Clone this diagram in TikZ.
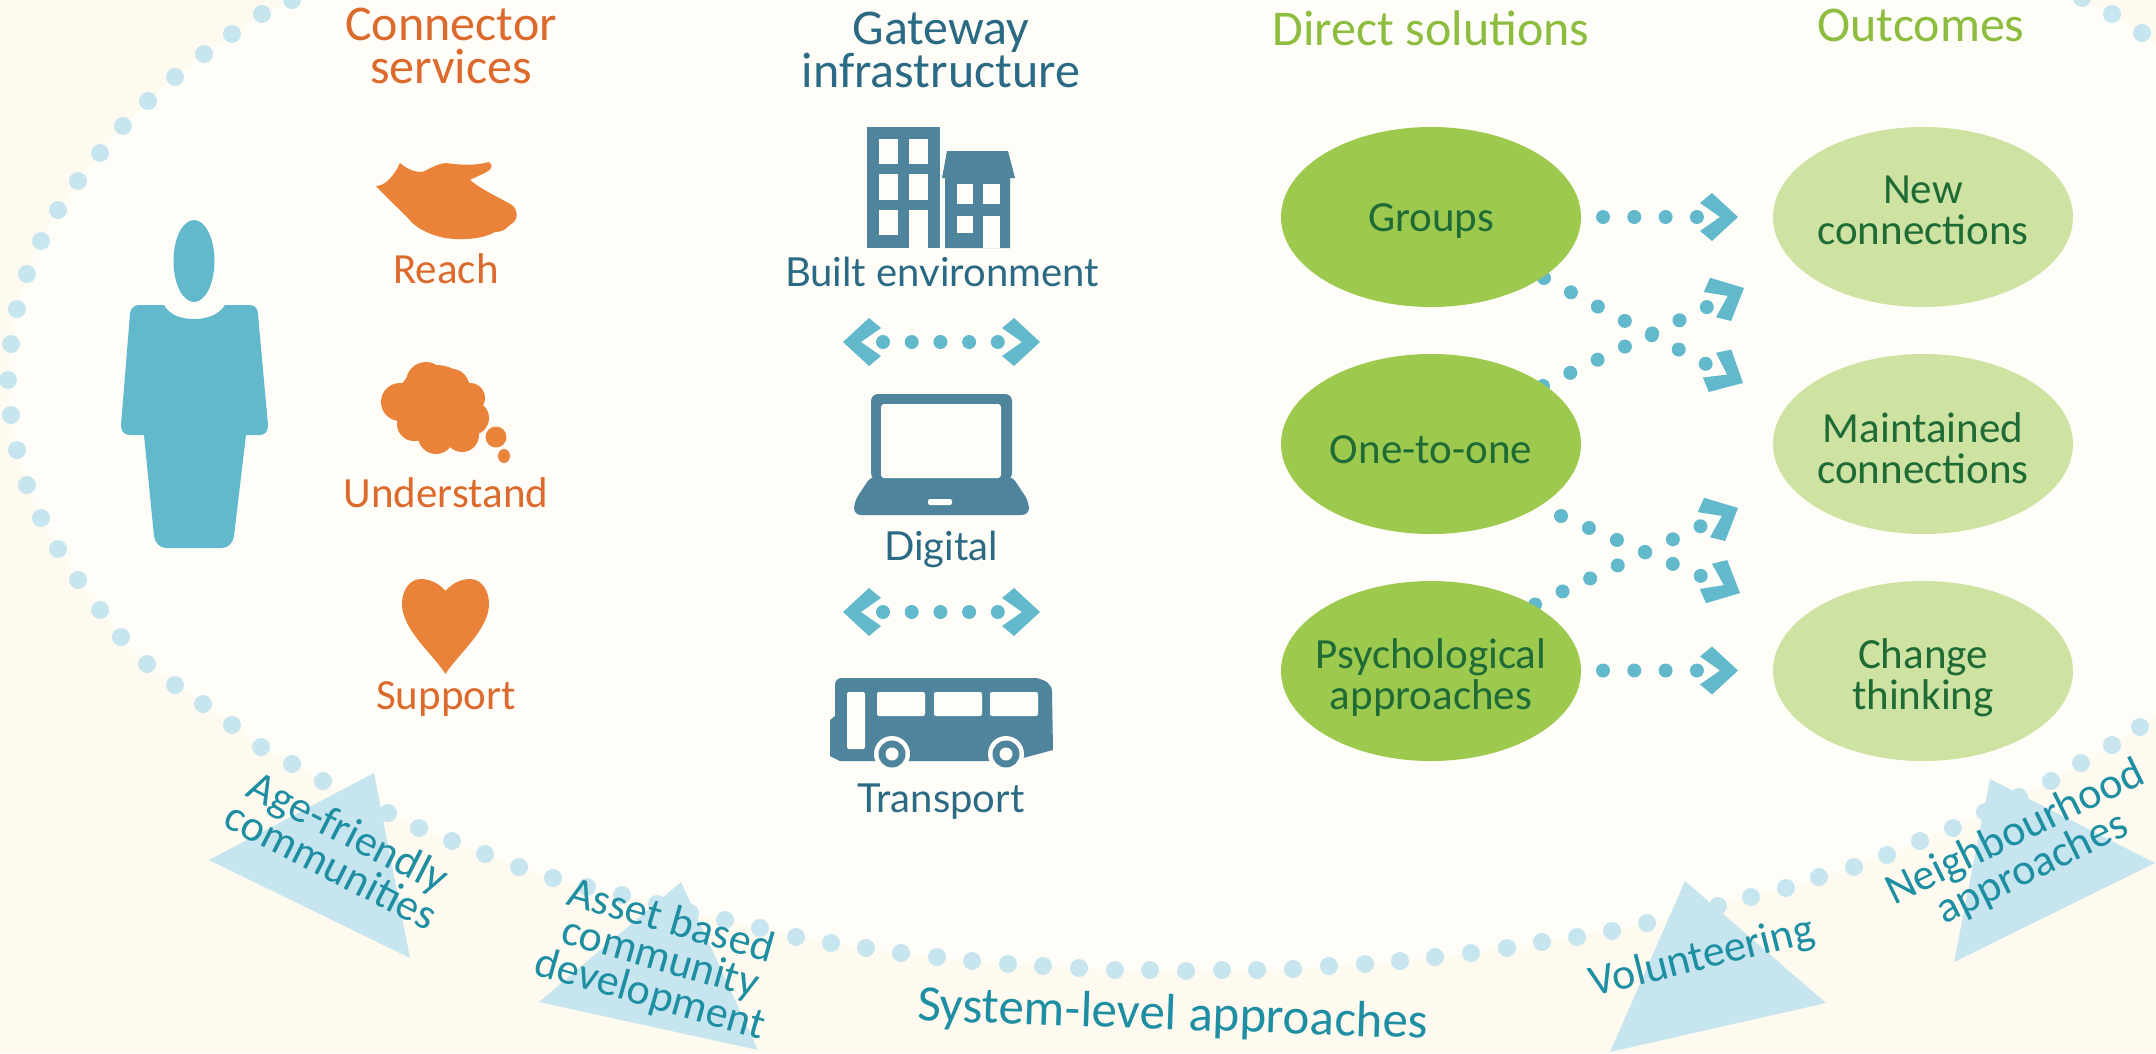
\documentclass[tikz,border=0pt]{standalone}
\usepackage{fontspec}
\setmainfont{Carlito}
\newfontfamily\latofont{Lato}
\usetikzlibrary{shapes.geometric}
\definecolor{outerbg}{HTML}{FFFAF0}
\definecolor{innerbg}{HTML}{FFFDF8}
\definecolor{ringblue}{HTML}{C7E5EE}
\definecolor{dotblue}{HTML}{62B9CC}
\definecolor{icondark}{HTML}{4E859D}
\definecolor{iconorange}{HTML}{EA8239}
\definecolor{txtorange}{HTML}{DC6A2C}
\definecolor{txtblue}{HTML}{2A6A84}
\definecolor{txtgreen}{HTML}{8CBD3F}
\definecolor{solgreen}{HTML}{9DC94F}
\definecolor{outgreen}{HTML}{CEE2A2}
\definecolor{darkgreen}{HTML}{1E6B35}
\definecolor{teal}{HTML}{1E8EA3}
\tikzset{
  x=1pt,y=-1pt,
  solution/.style={ellipse,fill=solgreen,minimum width=300pt,minimum height=180pt,inner sep=0pt},
  outcome/.style={ellipse,fill=outgreen,minimum width=300pt,minimum height=180pt,inner sep=0pt},
  ellipsetext/.style={text=darkgreen,align=center,inner sep=0pt,font=\fontsize{43}{41}\selectfont},
  heading/.style={align=center,inner sep=0pt,font=\fontsize{50}{43}\selectfont},
  orangelabel/.style={text=txtorange,inner sep=0pt,font=\fontsize{43}{40}\selectfont},
  gatewaylabel/.style={text=txtblue,inner sep=0pt,font=\latofont\fontsize{40}{40}\selectfont},
  systemlabel/.style={text=teal,align=center,inner sep=0pt,font=\fontsize{44}{38}\selectfont},
  dotrow/.style={draw=dotblue,line width=14pt,line cap=round},
  dotmid/.style={draw=dotblue,line width=14pt,line cap=round,dash pattern=on 0pt off 28.7pt},
  triangleshape/.style={fill=ringblue},
  iconfill/.style={fill=icondark},
  holefill/.style={fill=innerbg},
}
\newcommand\chev[3]{\fill[dotblue,shift={(#1,#2)},rotate=#3] (0,0) -- (-26,-24) -- (-38,-14) -- (-18,0) -- (-38,14) -- (-26,24) -- cycle;}
\def\ringlist{292/0,262/14,232/34,204/54,175/77,148/101,123/126,100/153,78/181,58/210,41/241,27/274,17/309,11/344,8/380,11/415,17/450,27/485,41/518,58/549,78/580,100/610,121/637,147/664,175/685,203/704,232/725,261/747,292/764,323/781,355/797,388/813,419/828,452/841,485/854,519/867,553/878,587/887,622/895,657/904,690/913,725/920,760/928,796/937,831/943,866/948,901/953,937/957,972/961,1008/964,1043/966,1079/968,1115/970,1150/970,1186/971,1222/970,1257/970,1293/969,1329/966,1365/964,1400/961,1435/957,1471/953,1507/948,1542/942,1577/937,1612/931,1647/923,1682/915,1718/906,1751/897,1786/888,1819/877,1854/867,1887/855,1920/841,1953/828,1985/812,2019/797,2051/781,2081/763,2112/745,2140/727}
\begin{document}
\begin{tikzpicture}
\useasboundingbox (0,0) rectangle (2156,1053);
% backgrounds
\fill[outerbg] (0,0) rectangle (2156,1053);
\fill[innerbg] (292,0) \foreach \x/\y in \ringlist { -- (\x,\y) } -- (2156,716) -- (2156,44) -- (2142,33) -- (2112,14) -- (2082,0) -- cycle;
% ring of dots
\foreach \x/\y in \ringlist { \fill[ringblue] (\x,\y) circle[radius=9]; }
\foreach \x/\y in {2082/-2,2112/14,2142/33} { \fill[ringblue] (\x,\y) circle[radius=9]; }
% triangles
\fill[triangleshape] (374,773) -- (209,860) -- (410,958) -- cycle;
\fill[triangleshape] (681,882) -- (539,1002) -- (758,1050) -- cycle;
\fill[triangleshape] (1685,881) -- (1610,1052) -- (1826,1003) -- cycle;
\fill[triangleshape] (1990,779) -- (1954,962) -- (2155,863) -- cycle;
% person
\fill[dotblue] (194,261) ellipse[x radius=20.5,y radius=41];
\fill[dotblue] (164,305) .. controls (170,316) and (183,319) .. (194,319) .. controls (205,319) and (218,316) .. (225,305) -- (250,305) .. controls (255,305) and (258,309) .. (258,314) -- (268,425) .. controls (268,431) and (265,435) .. (260,435) -- (246,435) -- (234,536) .. controls (233,543) and (228,548) .. (222,548) -- (166,548) .. controls (160,548) and (155,543) .. (154,536) -- (144,435) -- (130,435) .. controls (124,435) and (121,431) .. (121,425) -- (130,314) .. controls (130,309) and (134,305) .. (139,305) -- cycle;
% hand
\fill[iconorange] (376,186) .. controls (385,186) and (394,176) .. (400,163) .. controls (408,170) and (415,172) .. (422,172) .. controls (428,170) and (436,164) .. (446,163) .. controls (460,165) and (475,166) .. (489,162) .. controls (493,165) and (492,169) .. (488,171) .. controls (482,175) and (475,177) .. (470,180) .. controls (482,190) and (500,198) .. (512,205) .. controls (518,210) and (518,218) .. (514,222) .. controls (508,225) and (506,232) .. (495,232) .. controls (485,238) and (465,241) .. (445,238) .. controls (430,235) and (415,228) .. (408,218) .. controls (398,208) and (385,196) .. (376,186) -- cycle;
% cloud
\fill[iconorange] (436,405) circle[radius=40];
\foreach \x/\y/\r in {426/382/20,452/386/17,470/398/15,472/418/17,462/435/17,436/436/18,414/424/17,400/402/19}{ \fill[iconorange] (\x,\y) circle[radius=\r]; }
\fill[iconorange] (496,437) circle[radius=10.5];
\fill[iconorange] (504,456) ellipse[x radius=6,y radius=7];
% heart
\fill[iconorange] (445.5,591) .. controls (438,582) and (428,579) .. (421,579) .. controls (409,579) and (402,591) .. (402,604) .. controls (402,630) and (434,655) .. (445.5,674) .. controls (457,655) and (489,630) .. (489,604) .. controls (489,591) and (482,579) .. (470,579) .. controls (463,579) and (453,582) .. (445.5,591) -- cycle;
% buildings
\fill[iconfill] (867,127) rectangle (940,248);
\foreach \a/\b/\c/\d in {879/139/898/164,909/139/928/164,879/174/898/200,909/174/928/200,879/210/898/235,909/210/928/248}{ \fill[holefill] (\a,\b) rectangle (\c,\d); }
\fill[iconfill] (942,178) -- (947,151) -- (1008,151) -- (1015,178) -- (1010,178) -- (1010,248) -- (945,248) -- (945,178) -- cycle;
\foreach \a/\b/\c/\d in {957/184/973/204,983/184/1000/204,957/216/973/233,983/216/1000/248}{ \fill[holefill] (\a,\b) rectangle (\c,\d); }
% laptop
\fill[iconfill,rounded corners=7pt] (871,480) -- (871,394) -- (1012,394) -- (1012,480) -- cycle;
\fill[iconfill,rounded corners=7pt] (871,476) -- (1012,476) -- (1029,502) -- (1029,515) -- (854,515) -- (854,502) -- cycle;
\fill[holefill,rounded corners=3pt] (881,404) rectangle (1001,478);
\fill[holefill,rounded corners=2pt] (928,499) rectangle (952,505);
% bus
\fill[iconfill] (830,756) -- (830,720) -- (835,716) -- (835,685) .. controls (835,680) and (838,678) .. (842,678) -- (1036,678) .. controls (1046,680) and (1052,684) .. (1052,692) -- (1053,750) -- (1023,758) -- (1000,761) -- (840,761) -- cycle;
\foreach \a/\b/\c/\d in {847/692/865/749,877/692/925/716,934/692/982/716,990/692/1038/716}{ \fill[holefill,rounded corners=2pt] (\a,\b) rectangle (\c,\d); }
\foreach \x in {892,1006}{
  \fill[holefill] (\x,754) circle[radius=18];
  \fill[iconfill] (\x,754) circle[radius=13.5];
  \fill[holefill] (\x,754) circle[radius=6.5];
}
% named connector ends
\coordinate (gatewayA) at (883,342);
\coordinate (gatewayB) at (998,342);
\coordinate (gatewayC) at (883,612);
\coordinate (gatewayD) at (998,612);
\coordinate (groupsTop) at (1603,217);
\coordinate (newIn) at (1697,217);
\coordinate (groupsCross) at (1544,278);
\coordinate (maintTop) at (1706,364);
\coordinate (oneUp) at (1543,386);
\coordinate (newLow) at (1707,307);
\coordinate (oneDown) at (1561,516);
\coordinate (changeUp) at (1701,576);
\coordinate (psychUp) at (1535,604.5);
\coordinate (maintLow) at (1701,526);
\coordinate (psychRow) at (1603,670.5);
\coordinate (changeIn) at (1697,670.5);
% connectors
\draw[dotmid] (gatewayA) -- (gatewayB);
\draw[dotmid] (gatewayC) -- (gatewayD);
\chev{1040}{342}{0}\chev{843}{342}{180}
\chev{1040}{612}{0}\chev{843}{612}{180}
\draw[dotrow,dash pattern=on 0pt off 31.3pt] (groupsTop) -- (newIn);
\draw[dotrow,dash pattern=on 0pt off 30.5pt] (groupsCross) -- (maintTop);
\draw[dotrow,dash pattern=on 0pt off 30.3pt] (oneUp) -- (newLow);
\draw[dotrow,dash pattern=on 0pt off 30.4pt] (oneDown) -- (changeUp);
\draw[dotrow,dash pattern=on 0pt off 30.5pt] (psychUp) -- (maintLow);
\draw[dotrow,dash pattern=on 0pt off 31.3pt] (psychRow) -- (changeIn);
\chev{1738}{217}{0}
\chev{1743}{383}{-28}
\chev{1744}{288}{26}
\chev{1740}{593}{-26}
\chev{1738}{508}{26}
\chev{1738}{670.5}{0}
% ellipses
\node[solution] (groups) at (1431,217) {};
\node[solution] (onetoone) at (1431,444) {};
\node[solution] (psych) at (1431,671) {};
\node[outcome] (newconn) at (1923,217) {};
\node[outcome] (maintconn) at (1923,444) {};
\node[outcome] (change) at (1923,671) {};
\node[ellipsetext] (groupstxt) at (1431,221) {Groups};
\node[ellipsetext] (onetxt) at (1431,450) {One-to-one};
\node[ellipsetext] (psychtxt) at (1431,678) {Psychological\\approaches};
\node[ellipsetext] (newtxt) at (1923,210) {New\\connections};
\node[ellipsetext] (mainttxt) at (1923,448) {Maintained\\connections};
\node[ellipsetext] (changetxt) at (1923,678) {Change\\thinking};
% headings
\node[heading,text=txtorange] (hconn) at (451,46) {Connector\\services};
\node[heading,text=txtblue] (hgate) at (941,50) {Gateway\\infrastructure};
\node[heading,text=txtgreen] (hdirect) at (1431,28) {Direct solutions};
\node[heading,text=txtgreen] (hout) at (1921,25) {Outcomes};
% labels
\node[orangelabel] (reach) at (446,269) {Reach};
\node[orangelabel] (understand) at (446,493) {Understand};
\node[orangelabel] (support) at (446,699) {Support};
\node[gatewaylabel] (built) at (942,272) {Built environment};
\node[gatewaylabel] (digital) at (941,549) {Digital};
\node[gatewaylabel] (transport) at (941,802) {Transport};
% system labels
\node[systemlabel,rotate=-27] (agefriendly) at (340,848) {Age-friendly\\communities};
\node[systemlabel,rotate=-16] (asset) at (660,959) {Asset based\\community\\development};
\node[systemlabel,rotate=14] (volunteer) at (1702,958) {Volunteering};
\node[systemlabel,rotate=26] (neighbour) at (2024,851) {Neighbourhood\\approaches};
\node[systemlabel,rotate=-2,font=\fontsize{51}{50}\selectfont] (system) at (1173,1016) {System-level approaches};
\end{tikzpicture}
\end{document}
